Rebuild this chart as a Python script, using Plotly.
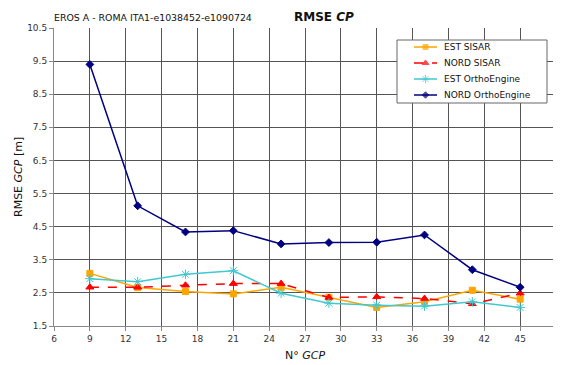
import plotly.graph_objects as go

gcp = [9, 13, 17, 21, 25, 29, 33, 37, 41, 45]
est_sisar = [3.09, 2.66, 2.54, 2.47, 2.67, 2.37, 2.06, 2.23, 2.58, 2.31]
nord_sisar = [2.67, 2.67, 2.73, 2.78, 2.78, 2.36, 2.38, 2.33, 2.17, 2.49]
est_ortho = [2.93, 2.84, 3.06, 3.17, 2.49, 2.19, 2.13, 2.10, 2.23, 2.06]
nord_ortho = [9.40, 5.13, 4.34, 4.38, 3.98, 4.02, 4.03, 4.25, 3.20, 2.67]

series_names = ["EST SISAR", "NORD SISAR", "EST OrthoEngine", "NORD OrthoEngine"]
series_values = [est_sisar, nord_sisar, est_ortho, nord_ortho]

x_ticks = list(range(6, 49, 3))
y_ticks = [1.5 + i for i in range(10)]

styles = [
    dict(color="#FFA500", dash="solid", symbol="square", size=6),
    dict(color="#FF0000", dash="dash", symbol="triangle-up", size=7),
    dict(color="#40C8D0", dash="solid", symbol="asterisk-open", size=8),
    dict(color="#000080", dash="solid", symbol="diamond", size=6),
]

font = "DejaVu Sans"
fig = go.Figure()
for name, vals, st in zip(series_names, series_values, styles):
    fig.add_trace(go.Scatter(x=gcp, y=vals, name=name, mode="lines+markers", showlegend=False,
                             line=dict(color=st["color"], width=1.5, dash=st["dash"]),
                             marker=dict(symbol=st["symbol"], size=st["size"], color=st["color"],
                                         line=dict(width=1, color=st["color"]))))

# page offset of 8px (body margin)
OFF = 8
W, H = 561 - OFF, 365 - OFF
L, T, R, B = 54, 28, 556, 326  # page pixel plot area

def px2paper(px, py):
    return (px - L) / (R - L), (B - py) / (B - T)

# manual legend (layout positions in page pixels, drawn on a hidden overlay axis)
box_x0, box_y0, box_x1, box_y1 = 397, 40, 547, 103
row_y = [47, 63, 79, 95]
key_x0, key_x1, text_x = 414, 437, 442

fig.add_trace(go.Scatter(x=[box_x0, box_x1, box_x1, box_x0, box_x0],
                         y=[box_y0, box_y0, box_y1, box_y1, box_y0],
                         xaxis="x2", yaxis="y2", mode="lines", fill="toself", fillcolor="white",
                         line=dict(color="#666666", width=1), showlegend=False, hoverinfo="skip"))

annotations = []
for name, st, ry in zip(series_names, styles, row_y):
    annotations.append(dict(text=name, x=px2paper(text_x, ry)[0], y=px2paper(text_x, ry)[1],
                            xref="paper", yref="paper", showarrow=False, xanchor="left", yanchor="middle",
                            font=dict(size=9, color="#111111", family=font)))
    fig.add_trace(go.Scatter(x=[key_x0, (key_x0 + key_x1) / 2, key_x1], y=[ry, ry, ry],
                             xaxis="x2", yaxis="y2", mode="lines+markers", showlegend=False, hoverinfo="skip",
                             line=dict(color=st["color"], width=1.5, dash="dash" if st["dash"] == "dash" else "solid"),
                             marker=dict(symbol=st["symbol"], size=[0, st["size"] - 1, 0], color=st["color"],
                                         line=dict(width=1, color=st["color"]))))

tx1, ty1 = px2paper(52, 17)
tx2, ty2 = px2paper(324, 17)
annotations += [
    dict(text="EROS A - ROMA ITA1-e1038452-e1090724", x=tx1, y=ty1, xref="paper", yref="paper",
         showarrow=False, font=dict(size=9.4, color="#111111", family=font), xanchor="left", yanchor="middle"),
    dict(text="<b>RMSE <i>CP</i></b>", x=tx2, y=ty2, xref="paper", yref="paper", showarrow=False,
         font=dict(size=12, color="#111111", family=font), xanchor="center", yanchor="middle"),
    dict(text="N° <i>GCP</i>", x=px2paper(305, 355)[0], y=px2paper(305, 355)[1], xref="paper", yref="paper",
         showarrow=False, font=dict(size=11, color="#111111", family=font), xanchor="center", yanchor="middle"),
    dict(text="RMSE <i>GCP</i> [m]", x=px2paper(18, 177)[0], y=px2paper(18, 177)[1], xref="paper", yref="paper",
         showarrow=False, textangle=-90, font=dict(size=11, color="#111111", family=font),
         xanchor="center", yanchor="middle"),
]

fig.update_layout(
    width=W, height=H,
    margin=dict(l=L - OFF, r=W - (R - OFF), t=T - OFF, b=H - (B - OFF), autoexpand=False),
    paper_bgcolor="white", plot_bgcolor="white",
    font=dict(family=font, size=9, color="#333333"),
    showlegend=False,
    annotations=annotations,
    xaxis2=dict(overlaying="x", anchor="y2", range=[L, R], visible=False, fixedrange=True),
    yaxis2=dict(overlaying="y", anchor="x2", range=[B, T], visible=False, fixedrange=True),
    xaxis=dict(range=[6, 48], tickvals=x_ticks, ticktext=[str(t) for t in x_ticks],
               showgrid=True, gridcolor="#555555", gridwidth=1, automargin=False,
               showline=True, linecolor="#888888", ticks="outside", ticklen=4, tickcolor="#888888",
               zeroline=False),
    yaxis=dict(range=[1.5, 10.5], tickvals=y_ticks, ticktext=[f"{t:.1f}" for t in y_ticks],
               showgrid=True, gridcolor="#555555", gridwidth=1, automargin=False,
               showline=True, linecolor="#888888", ticks="outside", ticklen=4, tickcolor="#888888",
               zeroline=False),
)

fig.write_html("out.html")
